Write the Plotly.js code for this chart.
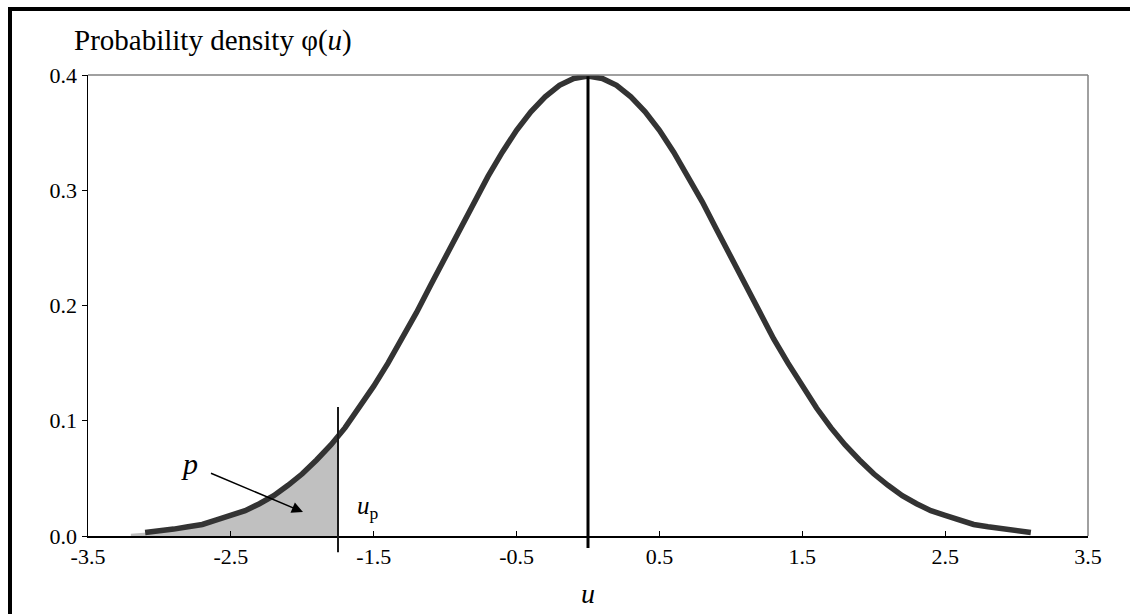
<!DOCTYPE html>
<html>
<head>
<meta charset="utf-8">
<script src="https://cdn.plot.ly/plotly-3.0.1.min.js"></script>
<style>
  html, body { margin: 0; padding: 0; background: #ffffff; }
  #chart { width: 1130px; height: 614px; }
</style>
</head>
<body>
<div id="chart"></div>
<script>
// Standard normal variable u and its probability density phi(u)
const u = [
  -3.1, -3.0, -2.9, -2.8, -2.7, -2.6, -2.5, -2.4, -2.3, -2.2, -2.1,
  -2.0, -1.9, -1.8, -1.7, -1.6, -1.5, -1.4, -1.3, -1.2, -1.1,
  -1.0, -0.9, -0.8, -0.7, -0.6, -0.5, -0.4, -0.3, -0.2, -0.1,
   0.0,
   0.1,  0.2,  0.3,  0.4,  0.5,  0.6,  0.7,  0.8,  0.9,  1.0,
   1.1,  1.2,  1.3,  1.4,  1.5,  1.6,  1.7,  1.8,  1.9,  2.0,
   2.1,  2.2,  2.3,  2.4,  2.5,  2.6,  2.7,  2.8,  2.9,  3.0, 3.1
];
const density = [
  0.003, 0.004, 0.006, 0.008, 0.010, 0.014, 0.018, 0.022, 0.028, 0.035, 0.044,
  0.054, 0.066, 0.079, 0.094, 0.111, 0.130, 0.150, 0.171, 0.194, 0.218,
  0.242, 0.266, 0.290, 0.312, 0.333, 0.352, 0.368, 0.381, 0.391, 0.397,
  0.399,
  0.397, 0.391, 0.381, 0.368, 0.352, 0.333, 0.312, 0.290, 0.266, 0.242,
  0.218, 0.194, 0.171, 0.150, 0.130, 0.111, 0.094, 0.079, 0.066, 0.054,
  0.044, 0.035, 0.028, 0.022, 0.018, 0.014, 0.010, 0.008, 0.006, 0.004, 0.003
];

// Quantile u_p and the density there; the shaded tail area is p
const uP = -1.75;
const densityAtUP = 0.086;
// Top of the u_p marker line
const uPLineTop = 0.112;
// Where the shaded tail meets the axis on the left
const tailStartU = -3.2;
const tailStartDensity = 0.002;

// Axis ticks
const xTickVals = [-3.5, -2.5, -1.5, -0.5, 0.5, 1.5, 2.5, 3.5];
const xTickText = ['-3.5', '-2.5', '-1.5', '-0.5', '0.5', '1.5', '2.5', '3.5'];
const yTickVals = [0, 0.1, 0.2, 0.3, 0.4];
const yTickText = ['0.0', '0.1', '0.2', '0.3', '0.4'];

// Text
const titleText = 'Probability density \u03c6(<i>u</i>)';
const xLabel = '<i>u</i>';
const areaLabel = '<i>p</i>';
const quantileLabel = '<i>u</i><sub>p</sub>';

// Mean of the distribution and its peak density
const meanU = 0;
const peakDensity = Math.max(...density);

// Shaded lower tail: curve points left of u_p, closed at u_p
const shadeU = [tailStartU];
const shadeDensity = [tailStartDensity];
u.forEach((v, i) => {
  if (v < uP) { shadeU.push(v); shadeDensity.push(density[i]); }
});
shadeU.push(uP);
shadeDensity.push(densityAtUP);

const serif = 'Liberation Serif';

const traces = [
  {
    x: shadeU, y: shadeDensity,
    type: 'scatter', mode: 'lines',
    fill: 'tozeroy', fillcolor: '#c0c0c0',
    line: { width: 0, color: '#c0c0c0' },
    hoverinfo: 'skip', showlegend: false
  },
  {
    x: u, y: density,
    type: 'scatter', mode: 'lines',
    line: { color: '#333333', width: 5.5 },
    showlegend: false
  }
];

// A vertical marker at data position x from the axis up to yTop,
// with a short stub reaching below the axis line
function marker(x, yTop, stub, width, color) {
  return [
    { type: 'line', xref: 'x', yref: 'y', x0: x, x1: x, y0: 0, y1: yTop,
      line: { color: color, width: width } },
    { type: 'line', xref: 'x', yref: 'paper', x0: x, x1: x, y0: -stub, y1: 0,
      line: { color: color, width: width } }
  ];
}

const layout = {
  width: 1130, height: 614,
  margin: { l: 88, r: 42, t: 75, b: 78, pad: 0 },
  paper_bgcolor: '#ffffff', plot_bgcolor: '#ffffff',
  showlegend: false,
  font: { family: serif, color: '#000000', size: 22 },
  title: {
    text: titleText,
    font: { family: serif, size: 29, color: '#000000' },
    xref: 'container', yref: 'container',
    x: 74 / 1130, xanchor: 'left',
    y: 1 - 40 / 614, yanchor: 'middle'
  },
  xaxis: {
    range: [-3.5, 3.5],
    tickmode: 'array', tickvals: xTickVals, ticktext: xTickText,
    ticks: 'inside', ticklen: 5, tickwidth: 1, tickcolor: '#000000',
    showline: true, linecolor: '#000000', linewidth: 1.5,
    showgrid: false, zeroline: false,
    tickfont: { family: serif, size: 22, color: '#000000' },
    title: {
      text: xLabel, standoff: 15,
      font: { family: serif, size: 28, color: '#000000' }
    },
    fixedrange: true
  },
  yaxis: {
    range: [0, 0.4],
    tickmode: 'array', tickvals: yTickVals, ticktext: yTickText,
    ticks: 'outside', ticklen: 5, tickwidth: 1, tickcolor: '#000000',
    showline: true, linecolor: '#000000', linewidth: 1.5,
    showgrid: false, zeroline: false,
    tickfont: { family: serif, size: 22, color: '#000000' },
    fixedrange: true
  },
  shapes: [
    // plot frame, top and right
    { type: 'line', xref: 'paper', yref: 'paper', x0: 0, x1: 1, y0: 1, y1: 1,
      line: { color: '#808080', width: 1.5 } },
    { type: 'line', xref: 'paper', yref: 'paper', x0: 1, x1: 1, y0: 0, y1: 1,
      line: { color: '#808080', width: 1.5 } },
    // outer border of the chart area
    { type: 'rect', xref: 'paper', yref: 'paper',
      x0: -0.078, x1: 1.06, y0: -0.2, y1: 1.1432,
      line: { color: '#000000', width: 4 }, fillcolor: 'rgba(0,0,0,0)' },
    ...marker(meanU, peakDensity, 0.026, 3, '#000000'),
    ...marker(uP, uPLineTop, 0.035, 2, '#1a1a1a')
  ],
  annotations: [
    {
      // label p with its arrow pointing into the shaded area
      x: -1.995, y: 0.0208, xref: 'x', yref: 'y',
      ax: -2.793, ay: 0.0625, axref: 'x', ayref: 'y',
      text: areaLabel, showarrow: true, arrowhead: 2, arrowsize: 1.6,
      arrowwidth: 1.4, arrowcolor: '#000000', startstandoff: 13,
      font: { family: serif, size: 30, color: '#000000' }
    },
    {
      x: -1.63, y: 0.025, xref: 'x', yref: 'y',
      text: quantileLabel, showarrow: false,
      xanchor: 'left', yanchor: 'middle',
      font: { family: serif, size: 25, color: '#000000' }
    }
  ]
};

Plotly.newPlot('chart', traces, layout, { staticPlot: true, displayModeBar: false });
</script>
</body>
</html>
